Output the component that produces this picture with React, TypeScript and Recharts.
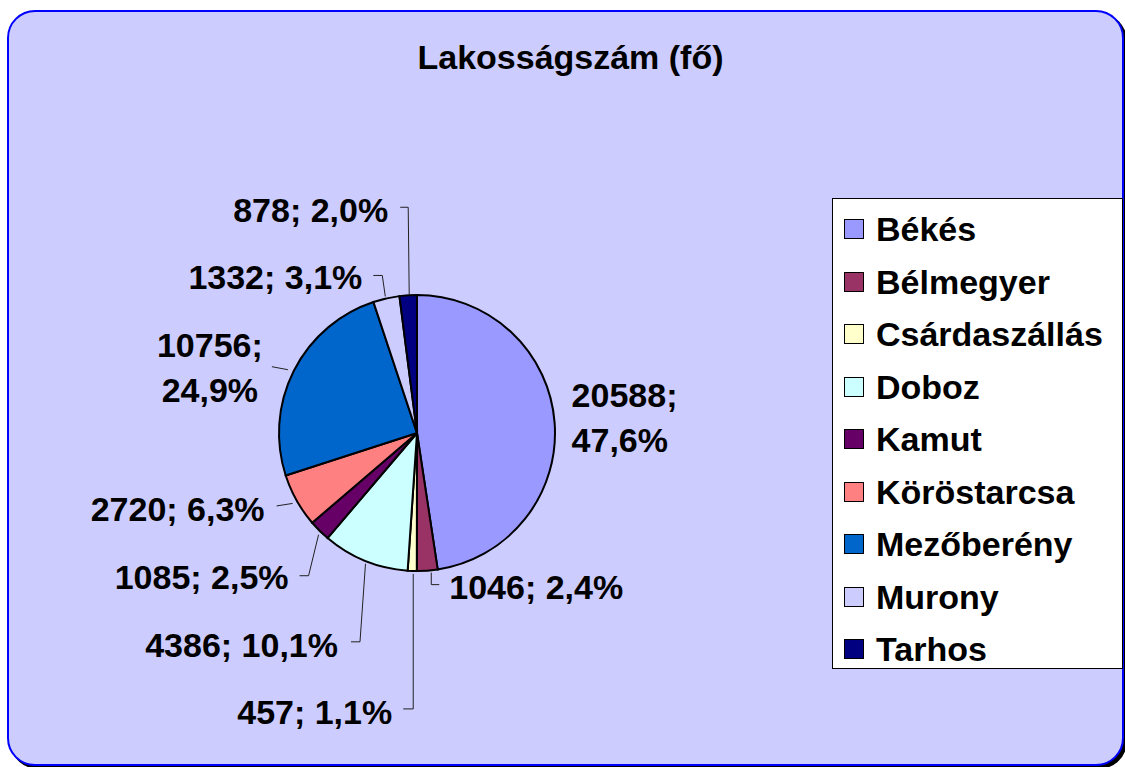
import { PieChart, Pie, Cell, Legend } from "recharts";

const towns = [
  "Békés",
  "Bélmegyer",
  "Csárdaszállás",
  "Doboz",
  "Kamut",
  "Köröstarcsa",
  "Mezőberény",
  "Murony",
  "Tarhos",
];
const population = [20588, 1046, 457, 4386, 1085, 2720, 10756, 1332, 878];
const sliceColors = [
  "#9999FF",
  "#993366",
  "#FFFFCC",
  "#CCFFFF",
  "#660066",
  "#FF8080",
  "#0066CC",
  "#CCCCFF",
  "#000080",
];

const data = towns.map((name, i) => ({ name, value: population[i] }));

// leader line bends and text offsets, relative to the point on the rim
const LABEL_LAYOUT: any[] = [
  { line: [], tx: 17, ty: -5, anchor: "start", split: true },
  { line: [[4, 2], [4, 14], [12, 14]], tx: 22, ty: 16, anchor: "start" },
  { line: [[1, 3], [1, 138], [-9, 138]], tx: -20, ty: 141, anchor: "end" },
  { line: [[0.5, 3], [-5, 81], [-14, 81]], tx: -27, ty: 84, anchor: "end" },
  { line: [[-1, 4], [-11, 45], [-20, 45]], tx: -31, ty: 46, anchor: "end" },
  { line: [[-4, 3], [-20, 5.5]], tx: -32, ty: 9, anchor: "end" },
  { line: [[-6, -1], [-22, -4]], tx: -84, ty: -3.5, anchor: "middle", split: true },
  { line: [[-1, -2], [-4, -23], [-13, -23]], tx: -24, ty: -21, anchor: "end" },
  { line: [[1, -1], [0, -88], [-8, -88]], tx: -20, ty: -85, anchor: "end" },
];

const FONT = "'Liberation Sans', Arial, Helvetica, sans-serif";
const RAD = Math.PI / 180;

const textStyle = {
  fontFamily: FONT,
  fontSize: 34,
  fontWeight: 700,
};

const renderLabel = (props: any) => {
  const { cx, cy, midAngle, outerRadius, index, value, percent } = props;
  const rx = cx + outerRadius * Math.cos(-midAngle * RAD);
  const ry = cy + outerRadius * Math.sin(-midAngle * RAD);
  const layout = LABEL_LAYOUT[index];
  const pct = (percent * 100).toFixed(1).replace(".", ",");
  let d = "";
  if (layout.line.length) {
    d = layout.line
      .map((p: number[], i: number) => `${i === 0 ? "M" : "L"}${rx + p[0]},${ry + p[1]}`)
      .join(" ");
  }
  const x = rx + layout.tx;
  const y = ry + layout.ty;
  return (
    <g key={`label-${index}`}>
      {d && <path d={d} stroke="#222" strokeWidth={1} fill="none" />}
      {layout.split ? (
        <>
          <text x={x} y={y - 22.5} textAnchor={layout.anchor} dominantBaseline="central" fill="#000" style={textStyle}>
            {`${value};`}
          </text>
          <text x={x} y={y + 22.5} textAnchor={layout.anchor} dominantBaseline="central" fill="#000" style={textStyle}>
            {`${pct}%`}
          </text>
        </>
      ) : (
        <text x={x} y={y} textAnchor={layout.anchor} dominantBaseline="central" fill="#000" style={textStyle}>
          {`${value}; ${pct}%`}
        </text>
      )}
    </g>
  );
};

const renderLegend = () => (
  <div
    style={{
      width: 291,
      height: 471,
      boxSizing: "border-box",
      border: "1px solid #000",
      background: "#fff",
      paddingTop: 4,
    }}
  >
    {towns.map((name, i) => (
      <div key={name} style={{ height: 52.5, display: "flex", alignItems: "center" }}>
        <span
          style={{
            width: 20,
            height: 20,
            boxSizing: "border-box",
            marginLeft: 11,
            marginRight: 12,
            border: "1.5px solid #000",
            background: sliceColors[i],
            display: "inline-block",
          }}
        />
        <span style={{ ...textStyle, color: "#000", lineHeight: "38px" }}>{name}</span>
      </div>
    ))}
  </div>
);

export default function App() {
  return (
    <div style={{ position: "absolute", left: 0, top: 0, width: 1125, height: 767, overflow: "hidden" }}>
      <div
        style={{
          position: "absolute",
          left: 7,
          top: 10,
          width: 1117,
          height: 756,
          boxSizing: "border-box",
          border: "2px solid #0000FF",
          borderRadius: 28,
          background: "#CCCCFF",
          boxShadow: "3px 3px 0 #000",
        }}
      />
      <div
        style={{
          position: "absolute",
          left: 0,
          top: 38,
          width: 1141,
          textAlign: "center",
          lineHeight: "38px",
          color: "#000",
          ...textStyle,
        }}
      >
        Lakosságszám (fő)
      </div>
      <div style={{ position: "absolute", left: 0, top: 0 }}>
        <PieChart width={1125} height={767} margin={{ top: 0, right: 0, bottom: 0, left: 0 }}>
          <Pie
            data={data}
            dataKey="value"
            nameKey="name"
            cx={417}
            cy={433}
            outerRadius={138}
            startAngle={90}
            endAngle={-270}
            stroke="#000"
            strokeWidth={2}
            label={renderLabel}
            labelLine={false}
            isAnimationActive={false}
          >
            {data.map((entry, i) => (
              <Cell key={entry.name} fill={sliceColors[i]} />
            ))}
          </Pie>
          <Legend
            content={renderLegend}
            layout="vertical"
            align="right"
            verticalAlign="top"
            wrapperStyle={{ left: 832, top: 198, width: 291, height: 471, right: "auto", bottom: "auto" }}
          />
        </PieChart>
      </div>
    </div>
  );
}
